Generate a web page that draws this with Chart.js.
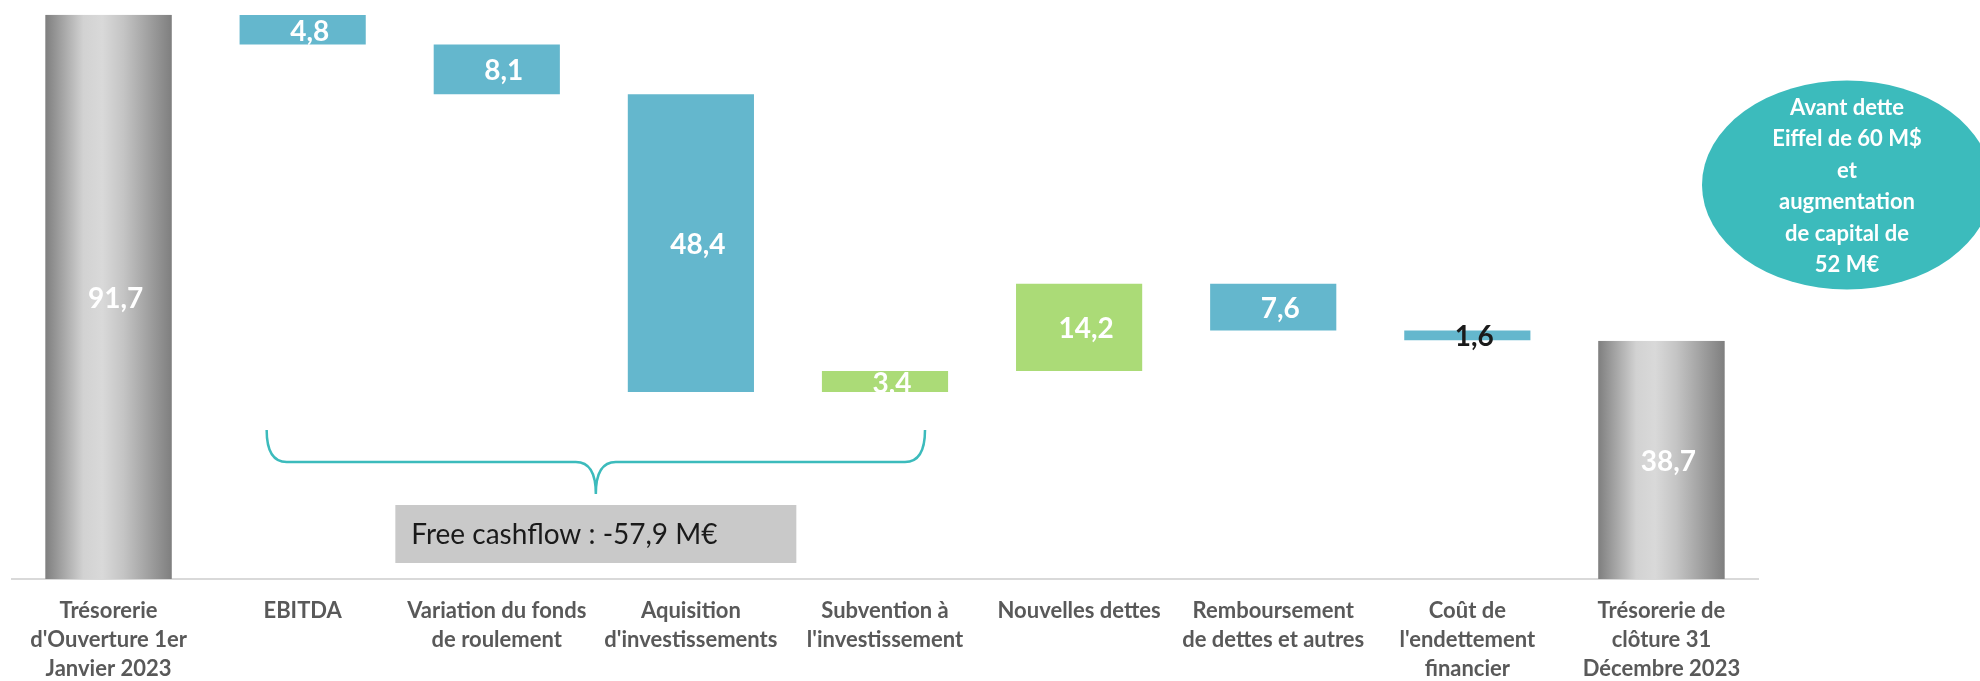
<!DOCTYPE html>
<html lang="fr">
<head>
<meta charset="utf-8">
<title>Trésorerie 2023</title>
<script src="https://cdn.jsdelivr.net/npm/chart.js@4"></script>
<style>
  html, body { margin: 0; padding: 0; background: #ffffff; }
  #wrap { width: 1980px; height: 681px; }
</style>
</head>
<body>
<div id="wrap"><canvas id="chart-tresorerie" width="1980" height="681"></canvas></div>
<script>
/* Categories (multi-line labels as on the original slide) */
const CATEGORIES = [
  ['Trésorerie', "d'Ouverture 1er", 'Janvier 2023'],
  ['EBITDA'],
  ['Variation du fonds', 'de roulement'],
  ['Aquisition', "d'investissements"],
  ['Subvention à', "l'investissement"],
  ['Nouvelles dettes'],
  ['Remboursement', 'de dettes et autres'],
  ['Coût de', "l'endettement", 'financier'],
  ['Trésorerie de', 'clôture 31', 'Décembre 2023']
];

/* Movements in M€ (negative = cash out). First and last are totals. */
const VALUES = [91.7, -4.8, -8.1, -48.4, 3.4, 14.2, -7.6, -1.6, 38.7];
const IS_TOTAL = [true, false, false, false, false, false, false, false, true];
const LABEL_TEXT = ['91,7', '4,8', '8,1', '48,4', '3,4', '14,2', '7,6', '1,6', '38,7'];
const LABEL_DARK = [false, false, false, false, false, false, false, true, false];

const FREE_CASHFLOW = 'Free cashflow : -57,9 M€';
const NOTE_LINES = ['Avant dette', 'Eiffel de 60 M$', 'et', 'augmentation', 'de capital de', '52 M€'];

/* Colours */
const COLOURS = {
  down: '#64B7CD',
  up: '#ABDB77',
  total: '#b0b0b0',
  axis: '#d9d9d9',
  tick: '#595959',
  teal: '#3CBBBC',
  box: '#C9C9C9'
};

/* Build floating bars [low, high] from the running total */
var running = 0;
var floating = VALUES.map(function(v, i) {
  if (IS_TOTAL[i]) { running = v; return [0, v]; }
  var start = running;
  running = running + v;
  return [Math.min(start, running), Math.max(start, running)];
});
var barColours = VALUES.map(function(v, i) {
  if (IS_TOTAL[i]) return COLOURS.total;
  return v < 0 ? COLOURS.down : COLOURS.up;
});

/* Paints the grey totals with a cylinder-like gradient, then values and annotations */
const decorPlugin = {
  id: 'decor',
  afterDatasetsDraw: function(chart) {
    var ctx = chart.ctx;
    var meta = chart.getDatasetMeta(0);
    var area = chart.chartArea;

    meta.data.forEach(function(bar, i) {
      if (!IS_TOTAL[i]) return;
      var left = bar.x - bar.width / 2;
      var g = ctx.createLinearGradient(left, 0, left + bar.width, 0);
      g.addColorStop(0, '#7f7f7f');
      g.addColorStop(0.3, '#d2d2d2');
      g.addColorStop(0.45, '#d9d9d9');
      g.addColorStop(0.62, '#c4c4c4');
      g.addColorStop(1, '#7f7f7f');
      ctx.save();
      ctx.fillStyle = g;
      ctx.fillRect(left, bar.y, bar.width, bar.base - bar.y);
      ctx.restore();
    });

    /* value labels */
    ctx.save();
    ctx.font = 'bold 28px Lato';
    ctx.textAlign = 'center';
    ctx.textBaseline = 'middle';
    meta.data.forEach(function(bar, i) {
      ctx.fillStyle = LABEL_DARK[i] ? '#1a1a1a' : '#ffffff';
      ctx.fillText(LABEL_TEXT[i], bar.x + 7, (bar.y + bar.base) / 2 + 2);
    });
    ctx.restore();

    /* brace under the free cashflow items */
    var xs = chart.scales.x;
    var bl = xs.getPixelForValue(1) - 36;
    var br = xs.getPixelForValue(4) + 40;
    var mid = (bl + br) / 2;
    var yTop = area.bottom - 149;
    var yLine = area.bottom - 117;
    var yTip = area.bottom - 85;
    ctx.save();
    ctx.strokeStyle = COLOURS.teal;
    ctx.lineWidth = 2.5;
    ctx.beginPath();
    ctx.moveTo(bl, yTop);
    ctx.quadraticCurveTo(bl, yLine, bl + 20, yLine);
    ctx.lineTo(mid - 20, yLine);
    ctx.quadraticCurveTo(mid, yLine, mid, yTip);
    ctx.quadraticCurveTo(mid, yLine, mid + 20, yLine);
    ctx.lineTo(br - 20, yLine);
    ctx.quadraticCurveTo(br, yLine, br, yTop);
    ctx.stroke();
    ctx.restore();

    /* free cashflow box */
    var boxW = 401, boxH = 58;
    var boxX = mid - boxW / 2;
    var boxY = area.bottom - 74;
    ctx.save();
    ctx.fillStyle = COLOURS.box;
    ctx.fillRect(boxX, boxY, boxW, boxH);
    ctx.fillStyle = '#1a1a1a';
    ctx.font = '28px Lato';
    ctx.textAlign = 'left';
    ctx.textBaseline = 'middle';
    ctx.fillText(FREE_CASHFLOW, boxX + 16, boxY + boxH / 2 + 1);
    ctx.restore();

    /* note bubble */
    var cx = chart.width - 133, cy = 185;
    ctx.save();
    ctx.fillStyle = COLOURS.teal;
    ctx.beginPath();
    ctx.ellipse(cx, cy, 145, 104.5, 0, 0, Math.PI * 2);
    ctx.fill();
    ctx.fillStyle = '#ffffff';
    ctx.font = 'bold 22px Lato';
    ctx.textAlign = 'center';
    ctx.textBaseline = 'middle';
    NOTE_LINES.forEach(function(line, i) {
      ctx.fillText(line, cx, 108 + i * 31.4);
    });
    ctx.restore();
  }
};

new Chart(document.getElementById('chart-tresorerie'), {
  type: 'bar',
  data: {
    labels: CATEGORIES,
    datasets: [{
      data: floating,
      backgroundColor: barColours,
      borderWidth: 0,
      borderSkipped: false,
      categoryPercentage: 1,
      barPercentage: 0.65
    }]
  },
  options: {
    responsive: false,
    animation: false,
    layout: { padding: { left: 11.5, right: 221.5, top: 10, bottom: 0 } },
    plugins: {
      legend: { display: false },
      tooltip: { enabled: false }
    },
    scales: {
      x: {
        grid: { display: false, drawTicks: false },
        border: { display: true, color: COLOURS.axis, width: 2 },
        afterFit: function(scale) { scale.height = 102; },
        ticks: {
          padding: 18,
          maxRotation: 0,
          autoSkip: false,
          color: COLOURS.tick,
          font: { family: 'Lato', size: 22, weight: 'bold', lineHeight: 1.3 }
        }
      },
      y: {
        display: false,
        min: 0,
        max: 92.5
      }
    }
  },
  plugins: [decorPlugin]
});
</script>
</body>
</html>
